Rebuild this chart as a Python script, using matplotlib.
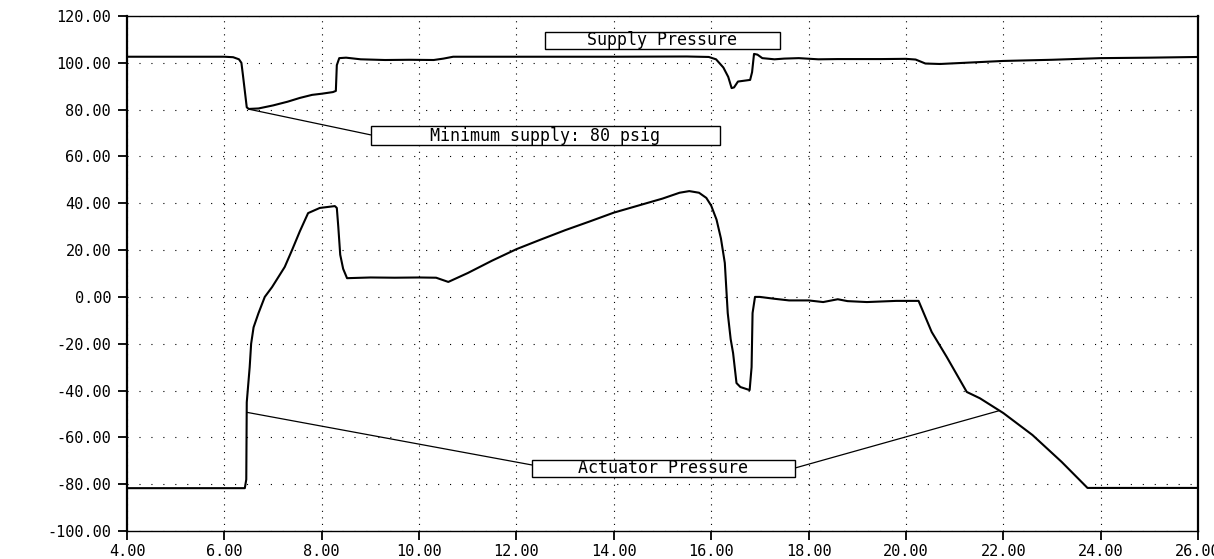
import matplotlib
matplotlib.use("Agg")
import matplotlib.pyplot as plt
from matplotlib.patches import Rectangle
from matplotlib.ticker import MultipleLocator, FuncFormatter

plt.rcParams['lines.scale_dashes'] = False
plt.rcParams['font.family'] = ['DejaVu Sans Mono']

# ---------------- data ----------------
supply_t = [4.0, 5.0, 6.0, 6.18, 6.3, 6.35, 6.38, 6.42, 6.46, 6.5, 6.7, 7.0, 7.3, 7.55, 7.8,
            8.0, 8.23, 8.29, 8.31, 8.36, 8.5, 8.8, 9.3, 9.8, 10.3, 10.5, 10.7, 12.0, 14.0,
            15.5, 15.95, 16.1, 16.25, 16.35, 16.42, 16.47, 16.55, 16.8, 16.84, 16.88, 16.95,
            17.05, 17.3, 17.5, 17.8, 18.2, 18.6, 19.5, 20.0, 20.2, 20.4, 20.7, 21.0, 21.5,
            22.0, 23.0, 24.0, 25.0, 26.0]
supply_p = [102.6, 102.6, 102.6, 102.4, 101.5, 100.0, 95.0, 88.0, 81.0, 80.3, 80.5, 81.8, 83.4,
            85.0, 86.3, 86.8, 87.5, 88.0, 99.0, 102.0, 102.2, 101.5, 101.2, 101.3, 101.2, 101.8,
            102.6, 102.6, 102.6, 102.7, 102.5, 101.5, 98.0, 94.0, 89.2, 89.5, 92.0, 92.7, 96.0,
            103.8, 103.5, 102.0, 101.5, 101.8, 102.0, 101.5, 101.6, 101.6, 101.7, 101.4, 99.7,
            99.5, 99.8, 100.3, 100.8, 101.3, 102.0, 102.2, 102.5]

act_t = [4.0, 6.42, 6.45, 6.46, 6.52, 6.55, 6.6, 6.7, 6.83, 6.98, 7.24, 7.39, 7.55, 7.72, 7.96,
         8.27, 8.31, 8.34, 8.38, 8.44, 8.52, 9.0, 9.5, 10.0, 10.35, 10.6, 11.0, 11.5, 12.0, 12.5,
         13.0, 13.5, 14.0, 14.5, 15.0, 15.35, 15.55, 15.75, 15.9, 16.0, 16.11, 16.2, 16.28,
         16.34, 16.4, 16.45, 16.52, 16.6, 16.79, 16.83, 16.85, 16.9, 17.0, 17.3, 17.6, 18.0,
         18.3, 18.6, 18.8, 19.2, 19.8, 20.26, 20.53, 20.84, 21.25, 21.52, 22.0, 22.6, 23.2,
         23.73, 26.0]
act_p = [-81.7, -81.7, -78.0, -45.0, -30.0, -20.0, -13.0, -7.0, 0.0, 4.2, 12.8, 20.0, 28.0,
         35.8, 38.0, 38.8, 38.0, 30.0, 18.0, 12.0, 8.0, 8.3, 8.2, 8.3, 8.2, 6.4, 10.2, 15.5,
         20.4, 24.5, 28.5, 32.2, 36.0, 39.0, 42.0, 44.5, 45.2, 44.5, 42.3, 39.0, 33.0, 25.0,
         14.5, -6.9, -18.0, -24.0, -36.8, -38.5, -39.8, -30.0, -6.9, 0.0, 0.0, -0.8, -1.5,
         -1.5, -2.2, -1.0, -1.8, -2.2, -1.7, -1.7, -15.0, -25.7, -40.6, -43.3, -49.6, -59.0,
         -70.5, -81.6, -81.6]

x_ticks = [4, 6, 8, 10, 12, 14, 16, 18, 20, 22, 24, 26]
y_ticks = [-100, -80, -60, -40, -20, 0, 20, 40, 60, 80, 100, 120]

label_supply = "Supply Pressure"
label_min = "Minimum supply: 80 psig"
label_act = "Actuator Pressure"

# annotation geometry (data coordinates)
supply_box = (12.58, 105.9, 17.41, 113.2)
min_box = (9.01, 64.9, 16.18, 73.0)
act_box = (12.32, -76.9, 17.72, -69.7)
min_point, min_edge = (6.5, 80.2), (9.01, 69.2)
act_point_l, act_edge_l = (6.46, -49.3), (12.32, -71.8)
act_point_r, act_edge_r = (21.9, -48.7), (17.72, -73.1)

# ---------------- figure ----------------
W, H = 1214, 559
fig = plt.figure(figsize=(W / 100, H / 100), dpi=100)
ax = fig.add_axes([127 / W, 1 - 531 / H, (1198 - 127) / W, (531 - 16) / H])

ax.plot(supply_t, supply_p, color='black', lw=1.5, zorder=3)
ax.plot(act_t, act_p, color='black', lw=1.5, zorder=3)

ax.set_xlim(4, 26)
ax.set_ylim(-100, 120)
ax.set_xticks(x_ticks)
ax.set_yticks(y_ticks)
fmt = FuncFormatter(lambda v, p: f"{v:.2f}")
ax.xaxis.set_major_formatter(fmt)
ax.yaxis.set_major_formatter(fmt)

ax.xaxis.grid(True, color='black', lw=0.8, linestyle=(0, (0.8, 3.9)))
ax.yaxis.grid(True, color='black', lw=0.8, linestyle=(0, (0.8, 7.8)))
ax.set_axisbelow(True)

ax.tick_params(axis='both', direction='out', length=6.5, width=1.3, colors='black',
               labelsize=11)
ax.tick_params(axis='y', pad=5)
ax.tick_params(axis='x', pad=3)

for side in ('left', 'right'):
    ax.spines[side].set_linewidth(1.6)
for side in ('top', 'bottom'):
    ax.spines[side].set_linewidth(1.0)

def boxed_label(box, text):
    x0, y0, x1, y1 = box
    ax.add_patch(Rectangle((x0, y0), x1 - x0, y1 - y0, facecolor='white',
                           edgecolor='black', lw=1.0, zorder=5))
    ax.text((x0 + x1) / 2, (y0 + y1) / 2, text, ha='center', va='center',
            fontsize=12, zorder=6)

def leader(p, q):
    ax.annotate('', xy=p, xytext=q,
                arrowprops=dict(arrowstyle='-', color='black', lw=0.9,
                                shrinkA=0, shrinkB=0), zorder=4)

leader(min_point, min_edge)
leader(act_point_l, act_edge_l)
leader(act_point_r, act_edge_r)
boxed_label(supply_box, label_supply)
boxed_label(min_box, label_min)
boxed_label(act_box, label_act)

fig.savefig('out.png', dpi=100)
